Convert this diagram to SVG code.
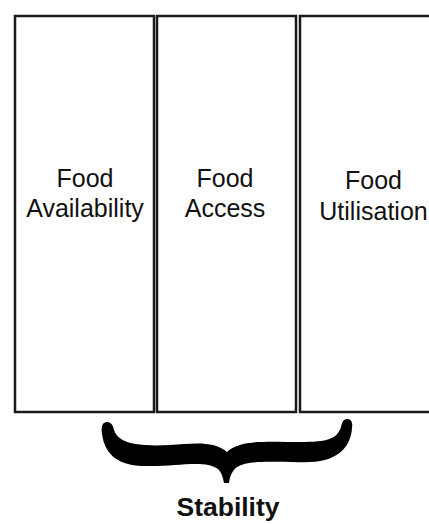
<svg xmlns="http://www.w3.org/2000/svg" width="429" height="524" viewBox="0 0 429 524">
<style>
.box{fill:#fff;stroke:#1a1a1a;stroke-width:2.5}
.lbl{font-family:"Liberation Sans",Arial,sans-serif;font-size:25px;fill:#111;text-anchor:middle}
.title{font-family:"Liberation Sans",Arial,sans-serif;font-size:26.5px;font-weight:bold;fill:#111;text-anchor:middle}
</style>
<rect width="429" height="524" fill="#fff"/>
<g id="node-availability">
<rect class="box" x="15" y="16" width="139" height="396"/>
<text class="lbl" x="85" y="187">Food</text>
<text class="lbl" x="85" y="217">Availability</text>
</g>
<g id="node-access">
<rect class="box" x="157" y="16" width="139" height="396"/>
<text class="lbl" x="225" y="187">Food</text>
<text class="lbl" x="225" y="217">Access</text>
</g>
<g id="node-utilisation">
<rect class="box" x="300" y="16" width="150" height="396"/>
<text class="lbl" x="373.5" y="189">Food</text>
<text class="lbl" x="373.5" y="220">Utilisation</text>
</g>
<g id="connectors">
<path fill="#000" d="M107,422 C102,422 101,428 102,434 C105,456 120,466 145,466 C175,467 205,459 218,469 C222,473 223,478 224,483 L229,483 C230,476 232,471 237,467 C250,459 280,463 310,462 C340,461 351,445 352,428 C353,422 351,419 347,419 C343,419 342,423 341,427 C337,439 328,442 300,442 C270,442 240,439 227,452 C215,441 195,443 170,445 C130,447 118,441 114,430 C113,425 111,422 107,422 Z"/>
</g>
<g id="node-stability">
<text class="title" x="228" y="516">Stability</text>
</g>
</svg>
